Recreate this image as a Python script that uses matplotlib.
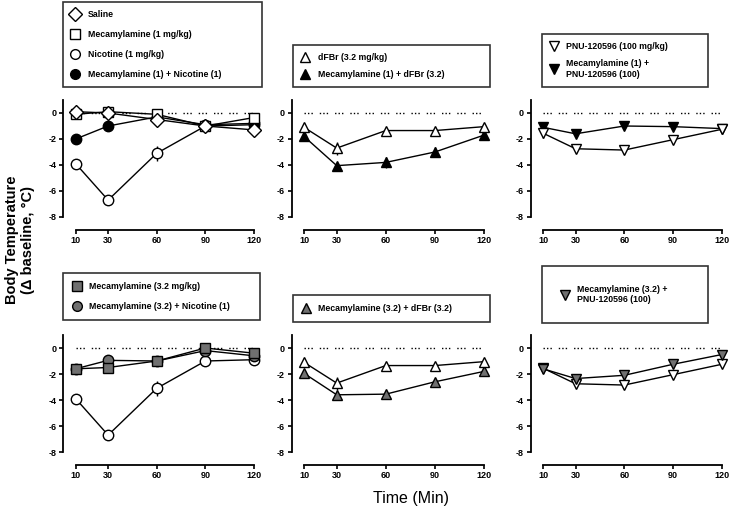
import matplotlib
matplotlib.use('Agg')
import matplotlib.pyplot as plt
from matplotlib.lines import Line2D

plt.rcParams['font.family'] = ['Liberation Sans', 'DejaVu Sans']

time_min = [10, 30, 60, 90, 120]
y_ticks = [0, -2, -4, -6, -8]

# top row
saline = [0.1, 0.0, -0.5, -1.0, -1.3]
mec1 = [-0.1, 0.1, -0.1, -1.0, -0.35]
nicotine = [-3.9, -6.7, -3.1, -1.0, -0.9]
nicotine_err = [0.3, 0.3, 0.6, 0.2, 0.2]
mec1_nic = [-2.0, -1.0, -0.3, -0.9, -0.8]
dfbr = [-1.1, -2.7, -1.35, -1.35, -1.05]
dfbr_err = [0.3, 0.5, 0.2, 0.2, 0.2]
mec1_dfbr = [-1.8, -4.05, -3.8, -3.0, -1.7]
mec1_dfbr_err = [0.2, 0.2, 0.4, 0.4, 0.2]
pnu = [-1.55, -2.75, -2.85, -2.05, -1.25]
pnu_err = [0.4, 0.3, 0.3, 0.3, 0.1]
mec1_pnu = [-1.1, -1.6, -1.0, -1.05, -1.2]

# bottom row
mec32 = [-1.6, -1.5, -1.0, 0.0, -0.4]
mec32_nic = [-1.6, -0.95, -1.0, -0.2, -0.6]
mec32_dfbr = [-1.95, -3.6, -3.55, -2.6, -1.8]
mec32_pnu = [-1.6, -2.35, -2.1, -1.25, -0.5]

GRAY = '#707070'

fig = plt.figure(figsize=(7.31, 5.13), dpi=100)
W, H = 731.0, 513.0


def make_ax(left_px, right_px, top_px, bottom_px):
    ax = fig.add_axes([left_px / W, 1 - bottom_px / H,
                       (right_px - left_px) / W, (bottom_px - top_px) / H])
    ax.set_xlim(10, 120)
    ax.set_ylim(-8, 1)
    for s in ['top', 'right']:
        ax.spines[s].set_visible(False)
    ax.spines['left'].set_position(('outward', 9))
    ax.spines['bottom'].set_position(('outward', 9))
    ax.spines['left'].set_bounds(-8, 1)
    ax.spines['left'].set_linewidth(1.3)
    ax.spines['bottom'].set_linewidth(1.3)
    ax.set_xticks(time_min)
    ax.set_yticks(y_ticks)
    ax.set_yticklabels([str(v) for v in y_ticks])
    ax.tick_params(length=3, width=1.2, labelsize=6.5, pad=2)
    for lab in ax.get_xticklabels() + ax.get_yticklabels():
        lab.set_fontweight('bold')
    ax.plot([10, 120], [0, 0], color='black', lw=1,
            ls=(0, (1, 1.5, 1, 1.5, 1, 5)), zorder=1)
    return ax


def series(ax, y, marker, fc, err=None, z=3):
    ax.errorbar(time_min, y, yerr=err, color='black', lw=1, marker=marker,
                ms=7.5, mfc=fc, mec='black', mew=1, elinewidth=1, capsize=0,
                clip_on=False, zorder=z)


cols = [(75.7, 254), (304, 484), (543, 722)]
rows = [(100, 217), (335, 452)]

a1 = make_ax(*cols[0], *rows[0])
series(a1, nicotine, 'o', 'white', nicotine_err, 3)
series(a1, mec1_nic, 'o', 'black', None, 4)
series(a1, mec1, 's', 'white', None, 5)
series(a1, saline, 'D', 'white', None, 6)

a2 = make_ax(*cols[1], *rows[0])
series(a2, dfbr, '^', 'white', dfbr_err, 4)
series(a2, mec1_dfbr, '^', 'black', mec1_dfbr_err, 3)

a3 = make_ax(*cols[2], *rows[0])
series(a3, mec1_pnu, 'v', 'black', None, 3)
series(a3, pnu, 'v', 'white', pnu_err, 4)

a4 = make_ax(*cols[0], *rows[1])
series(a4, nicotine, 'o', 'white', nicotine_err, 3)
series(a4, mec32_nic, 'o', GRAY, None, 4)
series(a4, mec32, 's', GRAY, None, 5)

a5 = make_ax(*cols[1], *rows[1])
series(a5, dfbr, '^', 'white', dfbr_err, 4)
series(a5, mec32_dfbr, '^', GRAY, None, 3)

a6 = make_ax(*cols[2], *rows[1])
series(a6, pnu, 'v', 'white', pnu_err, 3)
series(a6, mec32_pnu, 'v', GRAY, None, 4)


def h(marker, fc):
    return Line2D([], [], ls='none', marker=marker, ms=7, mfc=fc,
                  mec='black', mew=1)


def box(handles, labels, x0, x1, y0, y1, spacing=1.2, pad=0.9):
    leg = fig.legend(handles, labels, loc='center left',
                     bbox_to_anchor=(x0 / W, 1 - y1 / H, (x1 - x0) / W, (y1 - y0) / H),
                     mode='expand', frameon=True, fancybox=False, edgecolor='black',
                     prop={'size': 6.3, 'weight': 'bold'}, handlelength=1.0,
                     handletextpad=0.9, labelspacing=spacing, borderpad=pad,
                     borderaxespad=0)
    leg.get_frame().set_linewidth(1.2)
    return leg


box([h('D', 'white'), h('s', 'white'), h('o', 'white'), h('o', 'black')],
    ['Saline', 'Mecamylamine (1 mg/kg)', 'Nicotine (1 mg/kg)',
     'Mecamylamine (1) + Nicotine (1)'], 63, 262, 2, 87, 1.25)
box([h('^', 'white'), h('^', 'black')],
    ['dFBr (3.2 mg/kg)', 'Mecamylamine (1) + dFBr (3.2)'], 293, 490, 44, 88, 1.0)
box([h('v', 'white'), h('v', 'black')],
    ['PNU-120596 (100 mg/kg)', 'Mecamylamine (1) +\nPNU-120596 (100)'],
    542, 708, 32, 89, 0.9)
box([h('s', GRAY), h('o', GRAY)],
    ['Mecamylamine (3.2 mg/kg)', 'Mecamylamine (3.2) + Nicotine (1)'],
    63, 260, 270, 323, 1.2, 1.1)
box([h('^', GRAY)], ['Mecamylamine (3.2) + dFBr (3.2)'], 293, 490, 294, 323, 1.0, 1.0)
box([h('v', GRAY)], ['Mecamylamine (3.2) +\nPNU-120596 (100)'], 542, 708, 266, 323,
    1.0, 2.1)

fig.text(20 / W, 1 - 240 / H, 'Body Temperature\n(\u0394 baseline, \u00b0C)',
         rotation=90, ha='center', va='center', fontsize=10.5, fontweight='bold',
         linespacing=1.1)
fig.text(411 / W, 1 - 498 / H, 'Time (Min)', ha='center', va='center', fontsize=11.5)

fig.savefig('out.png', dpi=100)
